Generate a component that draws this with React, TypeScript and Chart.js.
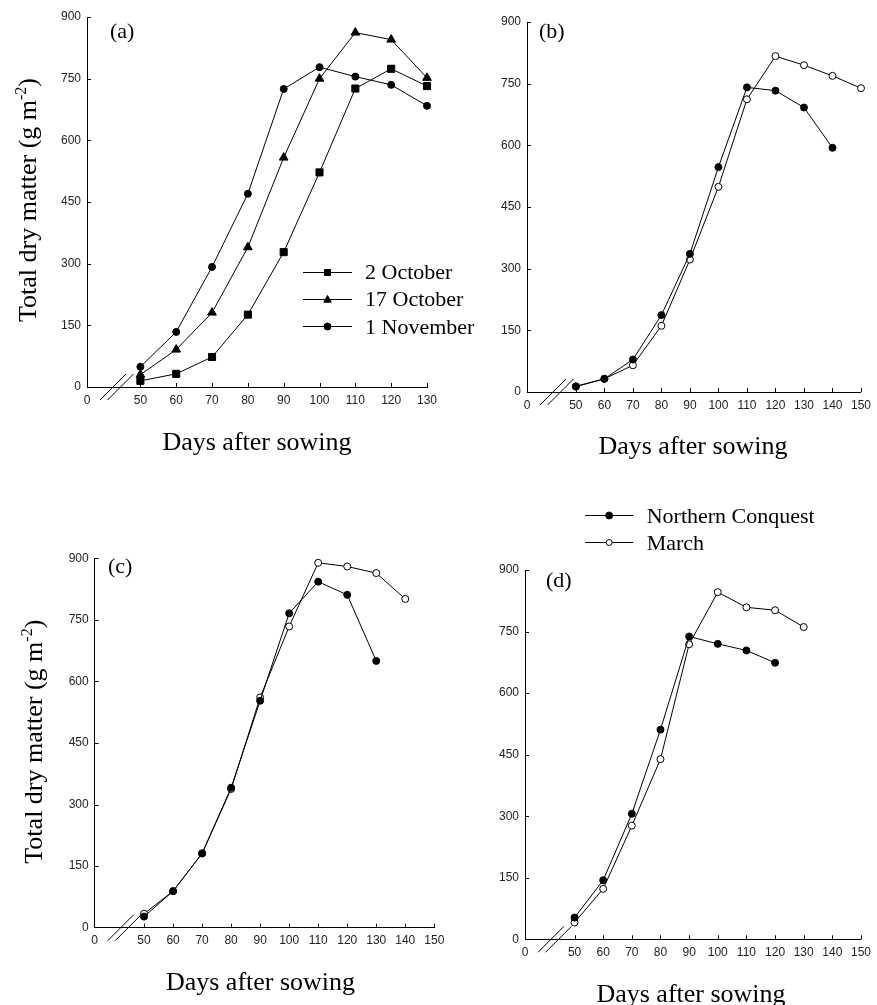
import React, { useEffect, useRef } from 'react';
import { Chart, registerables } from 'chart.js';

Chart.register(...registerables);

// ---------- data ----------
const yTickValues = [0, 150, 300, 450, 600, 750, 900];
const xTicksA = [50, 60, 70, 80, 90, 100, 110, 120, 130];
const xTicksBCD = [50, 60, 70, 80, 90, 100, 110, 120, 130, 140, 150];

// panel (a): sowing dates
const daysA = [50, 60, 70, 80, 90, 100, 110, 120, 130];
const oct2 = [15, 32, 73, 176, 328, 522, 726, 774, 732];
const oct17 = [30, 91, 181, 340, 558, 750, 862, 845, 752];
const nov1 = [49, 134, 292, 470, 725, 778, 755, 735, 684];

// panel (b)
const daysB_NC = [50, 60, 70, 80, 90, 100, 110, 120, 130, 140];
const bNC = [14, 32, 79, 187, 336, 547, 741, 733, 692, 594];
const daysB_M = [50, 60, 70, 80, 90, 100, 110, 120, 130, 140, 150];
const bMarch = [13, 32, 65, 161, 322, 499, 712, 817, 795, 769, 739];

// panel (c)
const daysC_NC = [50, 60, 70, 80, 90, 100, 110, 120, 130];
const cNC = [27, 89, 181, 341, 553, 766, 843, 811, 650];
const daysC_M = [50, 60, 70, 80, 90, 100, 110, 120, 130, 140];
const cMarch = [34, 89, 181, 338, 561, 734, 889, 880, 864, 801];

// panel (d)
const daysD_NC = [50, 60, 70, 80, 90, 100, 110, 120];
const dNC = [53, 144, 306, 511, 738, 720, 704, 674];
const daysD_M = [50, 60, 70, 80, 90, 100, 110, 120, 130];
const dMarch = [41, 123, 277, 439, 719, 846, 809, 802, 761];

const xTitleText = 'Days after sowing';
const yTitleMain = 'Total dry matter (g m';
const yTitleSup = '-2';
const yTitleEnd = ')';

// ---------- types ----------
type Marker = 'rect' | 'triangle' | 'circle';
interface Series {
  label: string;
  days: number[];
  values: number[];
  marker: Marker;
  filled: boolean;
}
interface LegendCfg {
  rows: number[];
  lineX0: number;
  lineX1: number;
  textX: number;
  fontSize: number;
  series: Series[];
}
interface PanelCfg {
  id: string;
  box: { left: number; top: number; width: number; height: number };
  area: { left: number; top: number; right: number; bottom: number };
  xMin: number;
  xMax: number;
  xTicks: number[];
  series: Series[];
  tag: { text: string; x: number; y: number };
  xTitle: { x: number; y: number };
  yTitle?: { x: number; y: number };
  legend?: LegendCfg;
}

const sA: Series[] = [
  { label: '2 October', days: daysA, values: oct2, marker: 'rect', filled: true },
  { label: '17 October', days: daysA, values: oct17, marker: 'triangle', filled: true },
  { label: '1 November', days: daysA, values: nov1, marker: 'circle', filled: true },
];
const mkNC = (days: number[], values: number[]): Series => ({
  label: 'Northern Conquest', days, values, marker: 'circle', filled: true,
});
const mkM = (days: number[], values: number[]): Series => ({
  label: 'March', days, values, marker: 'circle', filled: false,
});

const panels: PanelCfg[] = [
  {
    id: 'a',
    box: { left: 0, top: 0, width: 500, height: 470 },
    area: { left: 87, top: 17, right: 427, bottom: 387 },
    xMin: 35.1, xMax: 130, xTicks: xTicksA,
    series: sA,
    tag: { text: '(a)', x: 110, y: 38 },
    xTitle: { x: 257, y: 450 },
    yTitle: { x: 36, y: 200 },
    legend: { rows: [271.5, 298.5, 326], lineX0: 303, lineX1: 352, textX: 365, fontSize: 22, series: sA },
  },
  {
    id: 'b',
    box: { left: 440, top: 0, width: 437, height: 470 },
    area: { left: 87, top: 22, right: 426.7, bottom: 392 },
    xMin: 32.86, xMax: 150, xTicks: xTicksBCD,
    series: [mkNC(daysB_NC, bNC), mkM(daysB_M, bMarch)],
    tag: { text: '(b)', x: 99, y: 38 },
    xTitle: { x: 253, y: 454 },
  },
  {
    id: 'c',
    box: { left: 0, top: 500, width: 470, height: 505 },
    area: { left: 94.7, top: 58.3, right: 434.3, bottom: 427.7 },
    xMin: 33.0, xMax: 150, xTicks: xTicksBCD,
    series: [mkNC(daysC_NC, cNC), mkM(daysC_M, cMarch)],
    tag: { text: '(c)', x: 108, y: 73 },
    xTitle: { x: 260.5, y: 490 },
    yTitle: { x: 41.5, y: 241.7 },
  },
  {
    id: 'd',
    box: { left: 440, top: 500, width: 437, height: 505 },
    area: { left: 85, top: 70, right: 424.3, bottom: 439.3 },
    xMin: 32.7, xMax: 150, xTicks: xTicksBCD,
    series: [mkNC(daysD_NC, dNC), mkM(daysD_M, dMarch)],
    tag: { text: '(d)', x: 106, y: 87 },
    xTitle: { x: 251, y: 502 },
    legend: {
      rows: [15, 42.3], lineX0: 145, lineX1: 193.3, textX: 206.7, fontSize: 22,
      series: [mkNC([], []), mkM([], [])],
    },
  },
];

const SERIF = '"Liberation Serif", "Times New Roman", serif';
const SANS = '"Liberation Sans", Arial, sans-serif';

function drawMarker(ctx: CanvasRenderingContext2D, m: Marker, filled: boolean, x: number, y: number, s: number) {
  ctx.save();
  ctx.beginPath();
  if (m === 'rect') {
    ctx.rect(x - s / 2, y - s / 2, s, s);
  } else if (m === 'triangle') {
    const h = s * 0.9;
    ctx.moveTo(x, y - h * 0.6);
    ctx.lineTo(x + s / 2, y + h * 0.4);
    ctx.lineTo(x - s / 2, y + h * 0.4);
    ctx.closePath();
  } else {
    ctx.arc(x, y, s / 2, 0, Math.PI * 2);
  }
  ctx.fillStyle = filled ? '#000' : '#fff';
  ctx.fill();
  ctx.lineWidth = 1;
  ctx.strokeStyle = '#000';
  ctx.stroke();
  ctx.restore();
}

function makeDecor(cfg: PanelCfg) {
  return {
    id: 'decor_' + cfg.id,
    afterDraw(chart: any) {
      const ctx: CanvasRenderingContext2D = chart.ctx;
      const xs = chart.scales.x;
      const ys = chart.scales.y;
      const ca = chart.chartArea;
      ctx.save();
      ctx.strokeStyle = '#000';
      ctx.lineWidth = 1;
      // inward tick marks
      ctx.beginPath();
      for (const v of cfg.xTicks) {
        const px = Math.round(xs.getPixelForValue(v)) + 0.5;
        ctx.moveTo(px, ca.bottom);
        ctx.lineTo(px, ca.bottom - 4);
      }
      for (const v of yTickValues) {
        if (v === 0) continue;
        const py = Math.round(ys.getPixelForValue(v)) + 0.5;
        ctx.moveTo(ca.left, py);
        ctx.lineTo(ca.left + 4, py);
      }
      ctx.stroke();
      // axis break marks
      ctx.beginPath();
      for (const off of [26, 33.5]) {
        ctx.moveTo(ca.left + off - 13, ca.bottom + 13);
        ctx.lineTo(ca.left + off + 13, ca.bottom - 13);
      }
      ctx.stroke();

      ctx.fillStyle = '#000';
      // panel tag
      ctx.font = `22px ${SERIF}`;
      ctx.textAlign = 'left';
      ctx.textBaseline = 'alphabetic';
      ctx.fillText(cfg.tag.text, cfg.tag.x, cfg.tag.y);
      // x title
      ctx.font = `26px ${SERIF}`;
      ctx.textAlign = 'center';
      ctx.fillText(xTitleText, cfg.xTitle.x, cfg.xTitle.y);
      // y title with superscript
      if (cfg.yTitle) {
        ctx.save();
        ctx.translate(cfg.yTitle.x, cfg.yTitle.y);
        ctx.rotate(-Math.PI / 2);
        ctx.textAlign = 'left';
        const big = `26px ${SERIF}`;
        const small = `16px ${SERIF}`;
        ctx.font = big;
        const w1 = ctx.measureText(yTitleMain).width;
        const w3 = ctx.measureText(yTitleEnd).width;
        ctx.font = small;
        const w2 = ctx.measureText(yTitleSup).width;
        let cx = -(w1 + w2 + w3) / 2;
        ctx.font = big;
        ctx.fillText(yTitleMain, cx, 0);
        cx += w1;
        ctx.font = small;
        ctx.fillText(yTitleSup, cx, -10);
        cx += w2;
        ctx.font = big;
        ctx.fillText(yTitleEnd, cx, 0);
        ctx.restore();
      }
      // legend
      if (cfg.legend) {
        const lg = cfg.legend;
        lg.series.forEach((s, i) => {
          const ry = lg.rows[i];
          ctx.beginPath();
          ctx.moveTo(lg.lineX0, Math.round(ry) + 0.5);
          ctx.lineTo(lg.lineX1, Math.round(ry) + 0.5);
          ctx.stroke();
          const mx = (lg.lineX0 + lg.lineX1) / 2;
          const size = s.marker === 'circle' ? (s.filled ? 7 : 6) : s.marker === 'rect' ? 6 : 7.5;
          drawMarker(ctx, s.marker, s.filled, mx, Math.round(ry) + 0.5, size);
          ctx.font = `${lg.fontSize}px ${SERIF}`;
          ctx.textAlign = 'left';
          ctx.textBaseline = 'alphabetic';
          ctx.fillStyle = '#000';
          ctx.fillText(s.label, lg.textX, ry + 7.5);
        });
      }
      ctx.restore();
    },
  };
}

function Panel({ cfg }: { cfg: PanelCfg }) {
  const ref = useRef<HTMLCanvasElement>(null);
  useEffect(() => {
    const canvas = ref.current;
    if (!canvas) return;
    const yWidth = cfg.area.left;
    const xHeight = cfg.box.height - cfg.area.bottom;
    const chart = new Chart(canvas, {
      type: 'line',
      data: {
        datasets: cfg.series.map((s) => ({
          label: s.label,
          data: s.days.map((d, i) => ({ x: d, y: s.values[i] })),
          borderColor: '#000',
          borderWidth: 1,
          pointStyle: s.marker,
          pointRadius: s.marker === 'circle' ? 3.5 : 5,
          pointBackgroundColor: s.filled ? '#000' : '#fff',
          pointBorderColor: '#000',
          pointBorderWidth: 1,
          fill: false,
          tension: 0,
          clip: false as any,
        })),
      },
      options: {
        responsive: false,
        animation: false,
        devicePixelRatio: 1,
        events: [],
        layout: {
          padding: { left: 0, top: cfg.area.top, right: cfg.box.width - cfg.area.right, bottom: 0 },
        },
        plugins: {
          legend: { display: false },
          tooltip: { enabled: false },
          title: { display: false },
        },
        scales: {
          x: {
            type: 'linear',
            min: cfg.xMin,
            max: cfg.xMax,
            grid: { display: true, drawOnChartArea: false, drawTicks: false },
            border: { display: true, color: '#000', width: 1 },
            ticks: {
              autoSkip: false,
              maxRotation: 0,
              padding: 6,
              color: '#222',
              font: { family: SANS, size: 12 },
              callback: (v: any) => (Number(v) < 50 ? '0' : String(v)),
            },
            afterBuildTicks: (scale: any) => {
              scale.ticks = [cfg.xMin, ...cfg.xTicks].map((v) => ({ value: v }));
            },
            afterFit: (scale: any) => {
              scale.height = xHeight;
            },
          },
          y: {
            type: 'linear',
            min: 0,
            max: 900,
            grid: { display: true, drawOnChartArea: false, drawTicks: false },
            border: { display: true, color: '#000', width: 1 },
            ticks: {
              stepSize: 150,
              padding: 6,
              color: '#222',
              font: { family: SANS, size: 12 },
            },
            afterBuildTicks: (scale: any) => {
              scale.ticks = yTickValues.map((v) => ({ value: v }));
            },
            afterFit: (scale: any) => {
              scale.width = yWidth;
            },
          },
        },
      } as any,
      plugins: [makeDecor(cfg)],
    });
    return () => chart.destroy();
  }, [cfg]);
  return (
    <canvas
      ref={ref}
      width={cfg.box.width}
      height={cfg.box.height}
      style={{
        position: 'absolute',
        left: cfg.box.left,
        top: cfg.box.top,
        width: cfg.box.width,
        height: cfg.box.height,
      }}
    />
  );
}

export default function App() {
  return (
    <div
      style={{
        position: 'absolute',
        left: 0,
        top: 0,
        width: 877,
        height: 1005,
        background: '#fff',
        overflow: 'hidden',
      }}
    >
      {panels.map((p) => (
        <Panel key={p.id} cfg={p} />
      ))}
    </div>
  );
}
